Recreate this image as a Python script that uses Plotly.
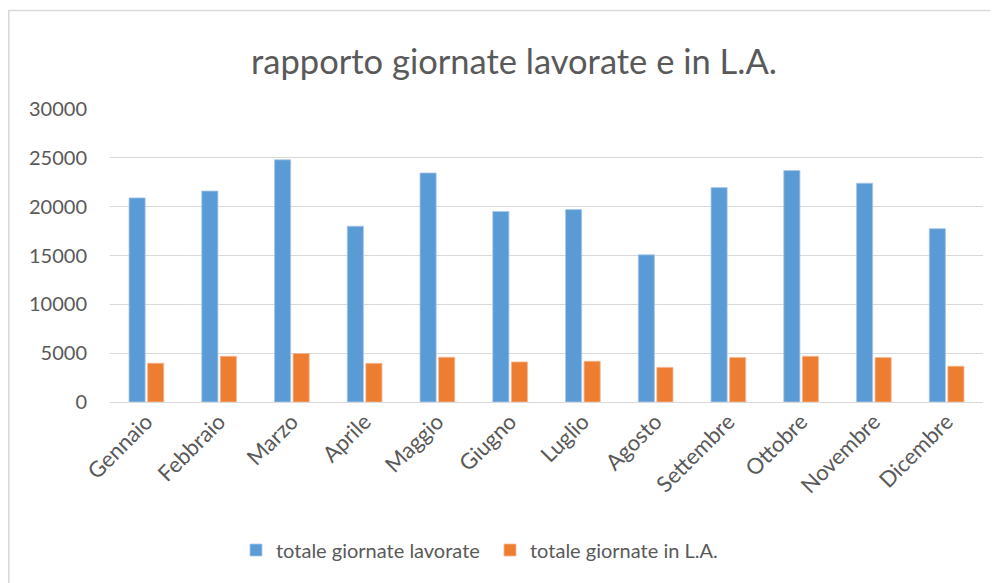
import plotly.graph_objects as go

mesi = ["Gennaio", "Febbraio", "Marzo", "Aprile", "Maggio", "Giugno",
        "Luglio", "Agosto", "Settembre", "Ottobre", "Novembre", "Dicembre"]
giornate_lavorate = [20900, 21600, 24800, 18000, 23450, 19500,
                     19700, 15070, 21950, 23700, 22400, 17750]
giornate_la = [3970, 4680, 4960, 3960, 4580, 4100,
               4170, 3550, 4550, 4680, 4550, 3660]

# page offset from the browser's default body margin
OFF = 8
W, H = 998 - OFF, 583 - OFF

fig = go.Figure()
fig.add_trace(go.Bar(x=mesi, y=giornate_lavorate, name="totale giornate lavorate",
                     marker=dict(color="#5B9BD5", line=dict(color="#A9C8EA", width=0.8))))
fig.add_trace(go.Bar(x=mesi, y=giornate_la, name="totale giornate in L.A.",
                     marker=dict(color="#ED7D31", line=dict(color="#F6B894", width=0.8))))

font = "Lato, 'Open Sans', sans-serif"
top, bottom, left, right = 109 - OFF, 402 - OFF, 110 - OFF, 983 - OFF
fig.update_layout(
    width=W, height=H,
    margin=dict(l=left, r=W - right, t=top, b=H - bottom, autoexpand=False),
    paper_bgcolor="white", plot_bgcolor="white",
    barmode="group", bargap=0.49, bargroupgap=0.13,
    title=dict(text="rapporto giornate lavorate e in L.A.",
               x=(514 - OFF) / W, xref="container", xanchor="center",
               y=1 - (62 - OFF) / H, yref="container", yanchor="middle",
               font=dict(family=font, size=34.5, color="#595959")),
    font=dict(family=font, color="#595959"),
    legend=dict(orientation="h", x=(490 - OFF) / W, xref="container", xanchor="center",
                y=1 - (550 - OFF) / H, yref="container", yanchor="middle",
                font=dict(size=20, color="#595959"),
                entrywidth=209, entrywidthmode="pixels",
                traceorder="normal"),
    showlegend=True,
)
fig.update_yaxes(range=[0, 30000], dtick=5000, showgrid=True, gridcolor="#D9D9D9",
                 gridwidth=1.3, zeroline=True, zerolinecolor="#D9D9D9", zerolinewidth=1.3,
                 tickfont=dict(size=20, color="#595959"), ticks="",
                 tickformat="d", showline=False, automargin=False,
                 ticklabelstandoff=22)
fig.update_xaxes(tickangle=-45, tickfont=dict(size=22, color="#595959"),
                 showline=True, linecolor="#D9D9D9", linewidth=1.3, ticks="",
                 automargin=False, ticklabelstandoff=-3)

# outer chart frame: only its left and top edges fall inside the picture
fig.add_shape(type="line", xref="paper", yref="paper",
              x0=(0.8 - left) / (right - left), x1=(0.8 - left) / (right - left),
              y0=(bottom - H - 5) / (bottom - top), y1=(bottom - 2.5) / (bottom - top),
              line=dict(color="#D9D9D9", width=1.6), layer="below")
fig.add_shape(type="line", xref="paper", yref="paper",
              x0=(0 - left) / (right - left), x1=(W + 5 - left) / (right - left),
              y0=(bottom - 2.5) / (bottom - top), y1=(bottom - 2.5) / (bottom - top),
              line=dict(color="#D9D9D9", width=1.6), layer="below")

fig.write_html("out.html")
